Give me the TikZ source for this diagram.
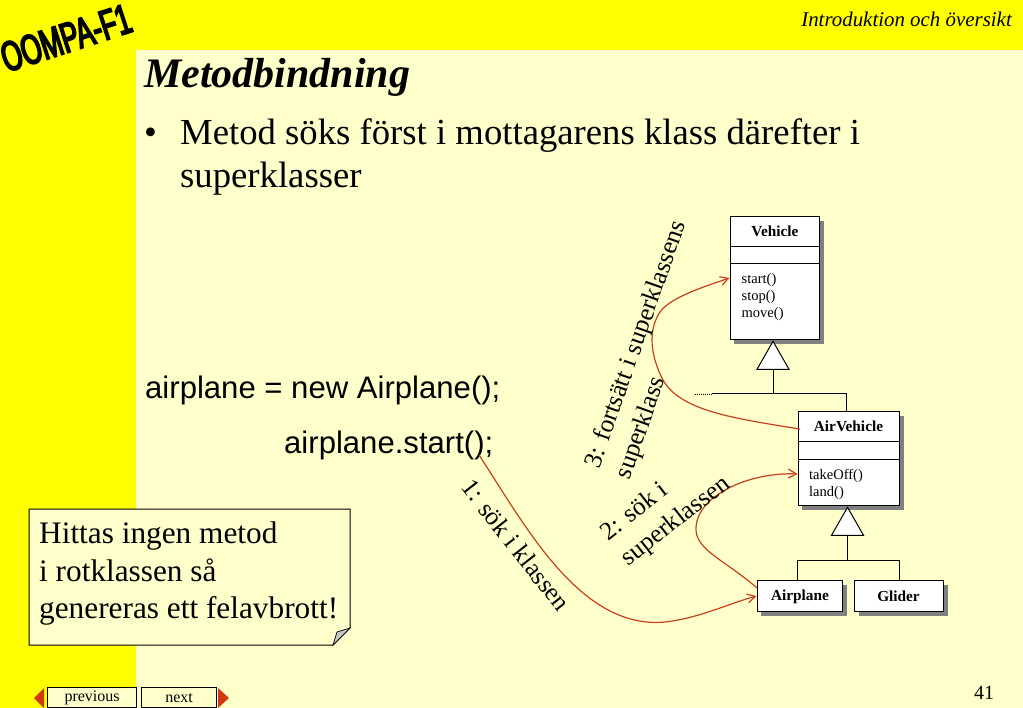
\documentclass[tikz,border=0pt]{standalone}
\usepackage{fontspec}
\setmainfont{Liberation Serif}
\setsansfont{Liberation Sans}
\newfontfamily\logofont[FakeBold=4, FakeStretch=0.62]{Liberation Sans}
\usetikzlibrary{arrows.meta, shapes.geometric, shadows, calc}
\definecolor{slidepale}{HTML}{FFFFCC}
\definecolor{slideyellow}{HTML}{FFFF00}
\definecolor{callred}{HTML}{C8401E}
\definecolor{navred}{HTML}{D2380F}
\tikzset{
  classbox/.style={draw=black, fill=white, line width=1.2pt, inner sep=0pt, anchor=north west,
    drop shadow={shadow xshift=4pt, shadow yshift=-4pt, fill=black!50, opacity=1}},
  classname/.style={font=\fontsize{15.3}{15.3}\selectfont\bfseries, inner sep=0pt},
  classops/.style={font=\fontsize{14.5}{17}\selectfont, align=left, anchor=north west, inner sep=0pt},
  inherit/.style={draw=black, fill=white, line width=1pt, shape=isosceles triangle, shape border rotate=90,
    isosceles triangle stretches, minimum height=28pt, minimum width=32pt, inner sep=0pt, anchor=apex},
  tree/.style={black, line width=1pt},
  callpath/.style={callred, line width=1.2pt},
  calllabel/.style={font=\fontsize{25.5}{32.5}\selectfont, align=left, inner sep=0pt},
  navbox/.style={draw=black, fill=slidepale, line width=1.2pt, inner sep=0pt, anchor=north west,
    font=\fontsize{16}{16}\selectfont},
}
\begin{document}
\begin{tikzpicture}[x=1pt, y=-1pt, >={Straight Barb[length=8pt, width=9pt]}]
      \useasboundingbox (0,0) rectangle (1023,708);
      \clip (0,0) rectangle (1023,708);

      % --- Slide background ---
      \fill[slideyellow] (0,0) rectangle (1023,708);
      \fill[slidepale] (136,50) rectangle (1023,708);

      % --- Header ---
      \node[rotate=18, inner sep=0pt] (logo) at (66,38) {\logofont\fontsize{42}{42}\selectfont OOMPA-F1};
      \node[anchor=base east, inner sep=0pt, font=\fontsize{20.9}{21}\selectfont\itshape] (chapter) at (1012,26.5) {Introduktion och översikt};
      \node[anchor=base west, inner sep=0pt, font=\fontsize{42}{42}\selectfont\bfseries\itshape] (title) at (144,88) {Metodbindning};

      % --- Bullet text ---
      \node[anchor=base west, inner sep=0pt, font=\fontsize{36.7}{37}\selectfont] (bullet) at (144,145) {•};
      \node[anchor=base west, inner sep=0pt, font=\fontsize{36.7}{37}\selectfont] (line1) at (180,145) {Metod söks först i mottagarens klass därefter i};
      \node[anchor=base west, inner sep=0pt, font=\fontsize{36.7}{37}\selectfont] (line2) at (180,188) {superklasser};

      % --- Code ---
      \node[anchor=base west, inner sep=0pt, font=\sffamily\fontsize{31.1}{31}\selectfont] (code1) at (145,399) {airplane = new Airplane();};
      \node[anchor=base west, inner sep=0pt, font=\sffamily\fontsize{31.1}{31}\selectfont] (code2) at (284,453.5) {airplane.start();};
      \coordinate (callstart) at (479,455);

      % --- Class boxes ---
      \node[classbox, minimum width=89.5pt, minimum height=123pt] (vehicle) at (729.5,216) {};
      \node[classbox, minimum width=101.5pt, minimum height=94pt] (airvehicle) at (797.5,411) {};
      \node[classbox, minimum width=85.5pt, minimum height=31pt] (airplane) at (756.5,580) {};
      \node[classbox, minimum width=89pt, minimum height=31pt] (glider) at (854,580) {};

      % Compartments
      \draw[tree] (729.5,247) -- (819,247) (729.5,264) -- (819,264);
      \draw[tree] (797.5,442) -- (899,442) (797.5,459) -- (899,459);

      \node[classname] (vehiclename) at (775,231) {Vehicle};
      \node[classname] (airvehiclename) at (848.5,426) {AirVehicle};
      \node[classname] (airplanename) at (800,597) {Airplane};
      \node[classname] (glidername) at (898.5,596) {Glider};
      \node[classops] (vehicleops) at (741.5,273.5) {start()\\stop()\\move()};
      \node[classops] (airvehicleops) at (809,469) {takeOff()\\land()};

      % --- Inheritance tree ---
      \node[inherit] (vehicletri) at (773,340) {};
      \node[inherit] (airvehicletri) at (847.5,506) {};
      \coordinate (fork1) at (773,394);
      \coordinate (fork2) at (847.5,560);
      \draw[tree] (vehicletri.lower side) -- (fork1);
      \draw[tree] (airvehicletri.lower side) -- (fork2);
      \draw[tree] (712,394) -- (846,394) -- (846,411);
      \draw[black, line width=0.8pt, dash pattern=on 1pt off 1pt] (695,394) -- (712,394);
      \draw[tree] (797.5,580) -- (797.5,560) -- (899,560) -- (899,580);

      % --- Search paths ---
      \draw[->, callpath] (callstart) .. controls (525,525) and (580,630) .. (665,622) .. controls (700,618) and (730,603) .. (airplane.west);
      \draw[->, callpath] (757,588) .. controls (725,560) and (695,550) .. (696,528) .. controls (697,495) and (750,472) .. (797.5,474);
      \draw[->, callpath] (800,429) .. controls (730,418) and (680,410) .. (663,380) .. controls (650,355) and (648,330) .. (660,312) .. controls (670,298) and (700,288) .. (729.5,278);

      % --- Path labels ---
      \node[calllabel, rotate=70.5] (label3) at (652,350) {3: fortsätt i superklassens\\superklass};
      \node[calllabel, rotate=38] (label2) at (666,509) {2: sök i\\superklassen};
      \node[calllabel, rotate=-52] (label1) at (516,545) {1: sök i klassen};

      % --- Note ---
      \draw[fill=slidepale, draw=black, line width=1pt] (29,509) -- (350,509) -- (350,628) -- (333,645) -- (29,645) -- cycle;
      \draw[fill=black!22, draw=black, line width=0.7pt] (350,628) -- (333,645) -- (337,632) -- cycle;
      \node[anchor=north west, inner sep=0pt, align=left, font=\fontsize{31.3}{37.5}\selectfont] (note) at (39,522) {Hittas ingen metod\\i rotklassen så\\genereras ett felavbrott!};

      % --- Navigation ---
      \node[navbox, minimum width=89pt, minimum height=20pt] (previous) at (47,687) {previous};
      \node[navbox, minimum width=75pt, minimum height=20pt] (next) at (141,687) {next};
      \fill[navred] (34,698) -- (44,688) -- (44,708) -- cycle;
      \fill[navred] (229,698) -- (218,688) -- (218,708) -- cycle;
      \node[inner sep=0pt, font=\fontsize{20}{20}\selectfont] (pagenumber) at (984,693) {41};
\end{tikzpicture}
\end{document}
